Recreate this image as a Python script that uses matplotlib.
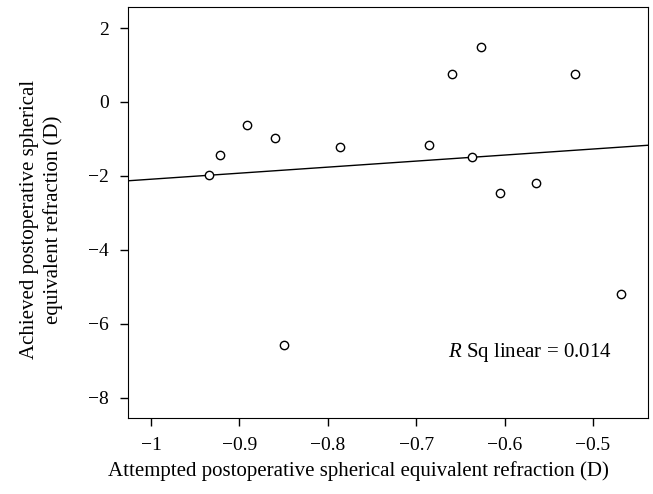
import numpy as np
import matplotlib.pyplot as plt

plt.rcParams['font.family'] = ['Liberation Serif', 'DejaVu Serif']
plt.rcParams['mathtext.fontset'] = 'custom'
plt.rcParams['mathtext.it'] = 'Liberation Serif:italic'

attempted = np.array([-0.934, -0.922, -0.891, -0.860, -0.786, -0.685, -0.659,
                      -0.627, -0.637, -0.605, -0.565, -0.520, -0.468, -0.850])
achieved = np.array([-1.98, -1.42, -0.61, -0.98, -1.22, -1.15, 0.75,
                     1.49, -1.48, -2.47, -2.20, 0.75, -5.19, -6.56])

# fit line as drawn in the source figure
fit_x = np.array([-1.026, -0.438])
fit_y = np.array([-2.13, -1.17])

xticks = [-1, -0.9, -0.8, -0.7, -0.6, -0.5]
yticks = [2, 0, -2, -4, -6, -8]

fig = plt.figure(figsize=(6.53, 4.94), dpi=100)
ax = fig.add_axes([0.196, 0.154, 0.796, 0.832])

ax.plot(fit_x, fit_y, color='black', lw=1)
ax.plot(attempted, achieved, 'o', mfc='white', mec='black', ms=6, mew=1)

ax.set_xlim(-1.026, -0.438)
ax.set_ylim(-8.54, 2.57)
ax.set_xticks(xticks)
ax.set_yticks(yticks)
ax.set_xticklabels(['\u22121' if t == -1 else '\u2212' + str(abs(t)) for t in xticks])
ax.set_yticklabels([('\u2212' + str(abs(t))) if t < 0 else str(t) for t in yticks])
ax.tick_params(direction='out', length=6, width=1, labelsize=14, pad=8)

ax.text(-0.664, -6.77, r'$\mathit{R}$ Sq linear = 0.014', fontsize=15, va='center')

ax.set_xlabel('Attempted postoperative spherical equivalent refraction (D)', fontsize=15)
ax.set_ylabel('Achieved postoperative spherical\nequivalent refraction (D)', fontsize=15,
              linespacing=1.3)
ax.xaxis.set_label_coords(0.444, -0.105)
ax.yaxis.set_label_coords(-0.125, 0.483)

fig.savefig('out.png', dpi=100)
